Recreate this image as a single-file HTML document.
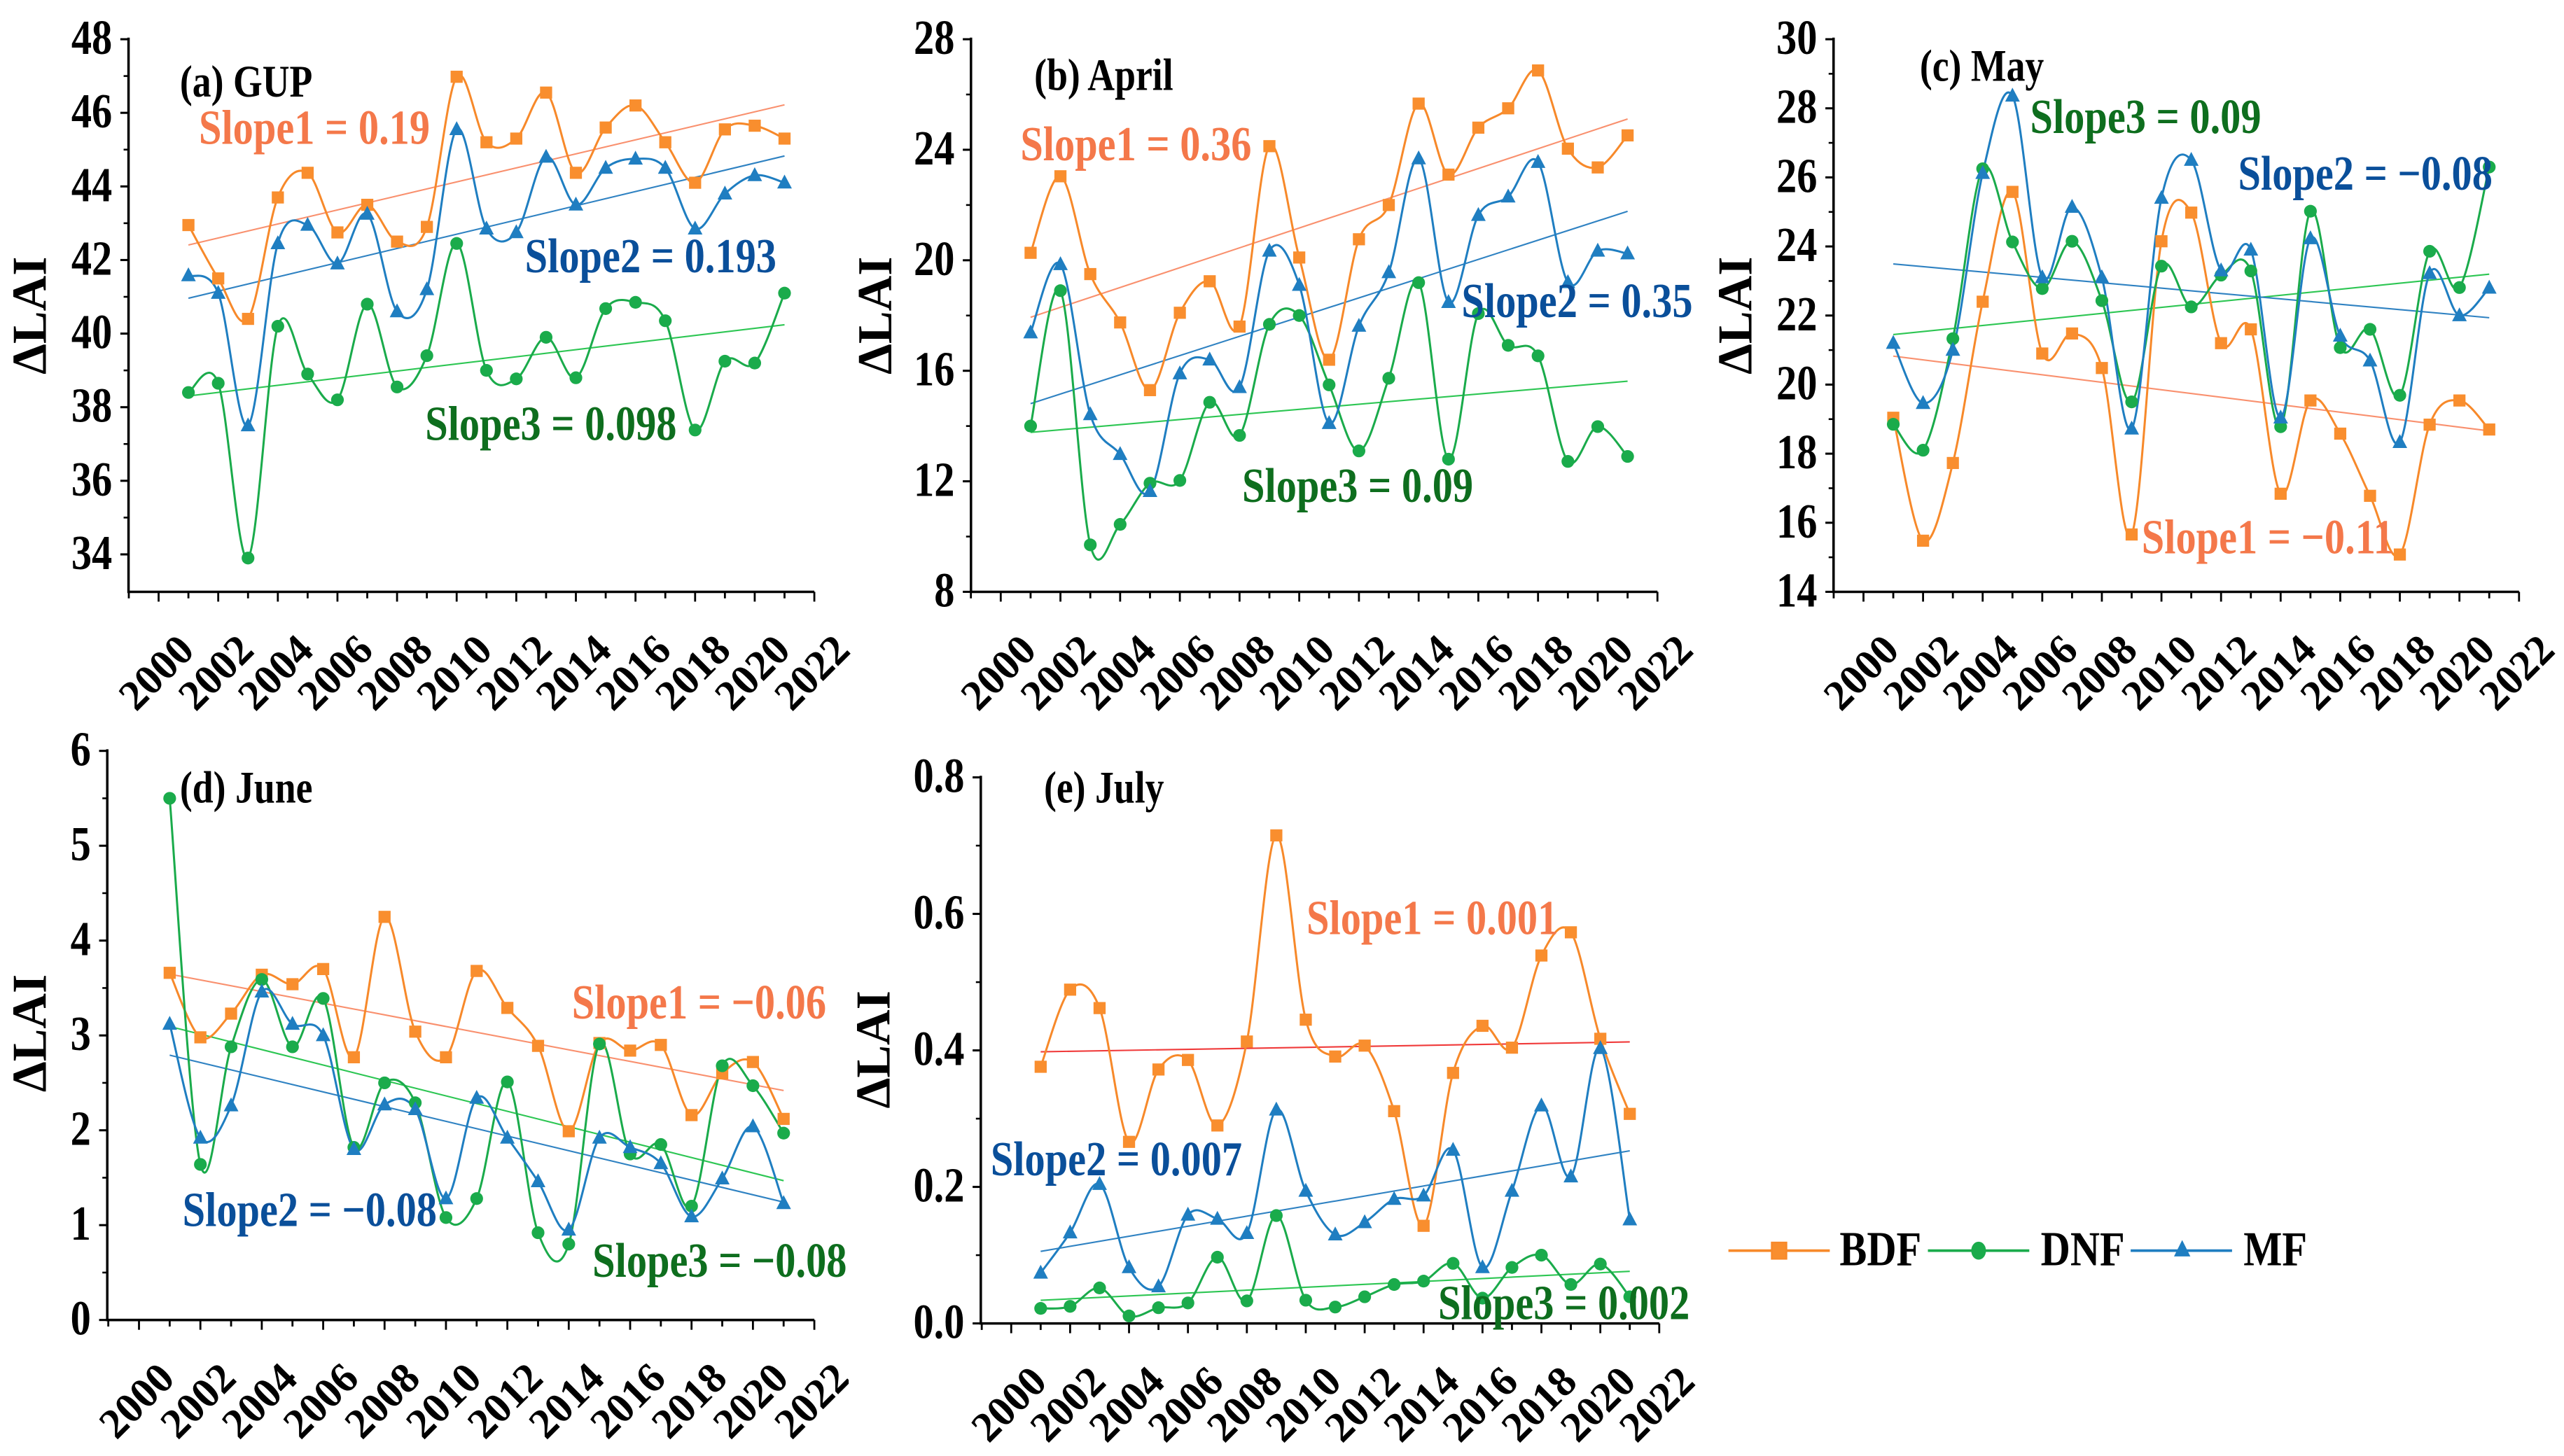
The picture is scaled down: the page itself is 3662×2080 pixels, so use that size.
<!DOCTYPE html>
<html><head><meta charset="utf-8"><style>
html,body{margin:0;padding:0;background:#fff;}
svg{display:block;}
text{font-family:"Liberation Serif",serif;font-weight:bold;}
</style></head><body>
<svg id="fig" width="3662" height="2080" viewBox="0 0 1568 890.6" preserveAspectRatio="none" xmlns="http://www.w3.org/2000/svg">
<defs><clipPath id="clipD"><rect x="0" y="420" width="519" height="470"/></clipPath></defs>
<g id="legend">
 <g>
  <line x1="1057" y1="765" x2="1119" y2="765" stroke="#F7892A" stroke-width="1.6"/>
  <rect x="1083.5" y="760" width="9" height="10" fill="#F98E2E" stroke="#F7892A"/>
  <text transform="translate(1125,774) scale(1,1.2)" font-size="25">BDF</text>
 </g>
 <g>
  <line x1="1179" y1="765" x2="1241" y2="765" stroke="#1AAB4B" stroke-width="1.6"/>
  <ellipse cx="1210" cy="765" rx="4.5" ry="5.5" fill="#1AAB4B"/>
  <text transform="translate(1248,774) scale(1,1.2)" font-size="25">DNF</text>
 </g>
 <g>
  <line x1="1303" y1="765" x2="1365" y2="765" stroke="#1F7EC1" stroke-width="1.6"/>
  <polygon points="1334.5,758.5 1339.5,768.5 1329.5,768.5" fill="#1F7EC1"/>
  <text transform="translate(1372,774) scale(1,1.2)" font-size="25">MF</text>
 </g>
</g>
</svg>
<script>
const years = [2001,2002,2003,2004,2005,2006,2007,2008,2009,2010,2011,2012,2013,2014,2015,2016,2017,2018,2019,2020,2021];
const xTickYears = [2000,2002,2004,2006,2008,2010,2012,2014,2016,2018,2020,2022];

const aBDF = [42.95,41.5,40.4,43.7,44.37,42.75,43.5,42.5,42.9,46.98,45.2,45.3,46.55,44.37,45.6,46.2,45.2,44.1,45.55,45.65,45.3];
const aDNF = [38.4,38.65,33.9,40.2,38.9,38.2,40.8,38.55,39.4,42.45,39.0,38.77,39.9,38.8,40.68,40.85,40.35,37.38,39.25,39.2,41.1];
const aMF  = [41.58,41.1,37.5,42.45,42.95,41.9,43.25,40.6,41.2,45.55,42.85,42.75,44.8,43.5,44.5,44.75,44.5,42.85,43.8,44.3,44.1];
const aYTicks = [34,36,38,40,42,44,46,48];

const bBDF = [20.27,23.04,19.5,17.75,15.3,18.1,19.24,17.6,24.13,20.1,16.4,20.76,22.0,25.67,23.1,24.8,25.5,26.87,24.04,23.36,24.52];
const bDNF = [14.0,18.9,9.7,10.44,11.93,12.03,14.86,13.66,17.68,18.0,15.49,13.1,15.73,19.19,12.8,18.07,16.92,16.54,12.72,13.98,12.9];
const bMF  = [17.38,19.85,14.42,12.98,11.64,15.9,16.4,15.4,20.34,19.1,14.1,17.62,19.56,23.68,18.48,21.63,22.3,23.55,19.2,20.34,20.24];
const bYTicks = [8,12,16,20,24,28];

const cBDF = [19.04,15.48,17.73,22.4,25.58,20.9,21.48,20.48,15.66,24.15,24.98,21.2,21.6,16.84,19.54,18.58,16.78,15.08,18.84,19.54,18.7];
const cDNF = [18.85,18.1,21.33,26.25,24.13,22.78,24.15,22.43,19.5,23.43,22.25,23.17,23.29,18.78,25.02,21.07,21.6,19.69,23.86,22.81,26.3];
const cMF  = [21.2,19.46,21.0,26.12,28.36,23.1,25.14,23.1,18.72,25.4,26.5,23.3,23.9,19.04,24.23,21.41,20.69,18.33,23.22,22.0,22.8];
const cYTicks = [14,16,18,20,22,24,26,28,30];

const dBDF = [3.66,2.98,3.23,3.64,3.54,3.7,2.77,4.25,3.04,2.77,3.68,3.29,2.89,1.99,2.92,2.84,2.9,2.16,2.6,2.72,2.12];
const dDNF = [5.5,1.64,2.88,3.59,2.88,3.39,1.82,2.5,2.29,1.08,1.28,2.51,0.92,0.8,2.91,1.75,1.85,1.2,2.68,2.47,1.97];
const dMF  = [3.12,1.92,2.26,3.46,3.12,3.0,1.8,2.27,2.22,1.28,2.34,1.92,1.46,0.95,1.92,1.82,1.65,1.09,1.49,2.04,1.23];
const dYTicks = [0,1,2,3,4,5,6];

const eBDF = [0.376,0.489,0.462,0.266,0.372,0.386,0.29,0.413,0.715,0.445,0.391,0.407,0.311,0.143,0.367,0.436,0.404,0.539,0.573,0.417,0.307];
const eDNF = [0.022,0.025,0.052,0.011,0.023,0.03,0.097,0.033,0.158,0.034,0.024,0.039,0.057,0.062,0.088,0.037,0.082,0.1,0.057,0.087,0.039];
const eMF  = [0.074,0.133,0.204,0.082,0.054,0.159,0.153,0.132,0.313,0.194,0.13,0.148,0.182,0.187,0.254,0.082,0.194,0.319,0.215,0.403,0.152];
const eYTicks = ['0.0','0.2','0.4','0.6','0.8'];

const slopeTexts = {
 a:['Slope1 = 0.19','Slope2 = 0.193','Slope3 = 0.098'],
 b:['Slope1 = 0.36','Slope2 = 0.35','Slope3 = 0.09'],
 c:['Slope1 = \u22120.11','Slope2 = \u22120.08','Slope3 = 0.09'],
 d:['Slope1 = \u22120.06','Slope2 = \u22120.08','Slope3 = \u22120.08'],
 e:['Slope1 = 0.001','Slope2 = 0.007','Slope3 = 0.002']
};

const NS='http://www.w3.org/2000/svg';
const svg=document.getElementById('fig');
const COL={BDF:'#F7892A',DNF:'#1AAB4B',MF:'#1F7EC1'};
const TREND={BDF:'#F9906E',DNF:'#2DC653',MF:'#2F82C2'};
const SLC=['#F4784A','#0A4F9A','#0E6E1E'];

function mk(tag,attrs,parent){const e=document.createElementNS(NS,tag);for(const k in attrs)e.setAttribute(k,attrs[k]);(parent||svg).appendChild(e);return e;}
function stext(x,y,size,attrs,parent){const a=Object.assign({x:0,y:0,'font-size':size,transform:'translate('+x+','+y+') scale(1,1.2)'},attrs);return mk('text',a,parent);}

function spline(pts){
 let d='M'+pts[0][0]+','+pts[0][1];
 for(let i=0;i<pts.length-1;i++){
  const p0=pts[Math.max(0,i-1)],p1=pts[i],p2=pts[i+1],p3=pts[Math.min(pts.length-1,i+2)];
  const c1x=p1[0]+(p2[0]-p0[0])/6,c1y=p1[1]+(p2[1]-p0[1])/6;
  const c2x=p2[0]-(p3[0]-p1[0])/6,c2y=p2[1]-(p3[1]-p1[1])/6;
  d+=' C'+c1x.toFixed(2)+','+c1y.toFixed(2)+' '+c2x.toFixed(2)+','+c2y.toFixed(2)+' '+p2[0].toFixed(2)+','+p2[1].toFixed(2);
 }
 return d;
}
function linreg(xs,ys){const n=xs.length;let sx=0,sy=0,sxx=0,sxy=0;for(let i=0;i<n;i++){sx+=xs[i];sy+=ys[i];sxx+=xs[i]*xs[i];sxy+=xs[i]*ys[i];}const b=(n*sxy-sx*sy)/(n*sxx-sx*sx);return{b:b,a:(sy-b*sx)/n};}

function panel(cfg){
 const g=mk('g',{});
 
 
 if(cfg.clip) g.setAttribute('clip-path',cfg.clip);
 const X=v=>cfg.x2000+(v-2000)*(cfg.x2022-cfg.x2000)/22;
 const Y=v=>cfg.yTopPx+(cfg.yTopVal-v)*(cfg.yBotPx-cfg.yTopPx)/(cfg.yTopVal-cfg.yBotVal);
 const axBot=cfg.axisBot, axLeft=cfg.axisLeft;
 const ax=mk('path',{d:'M'+axLeft+','+(cfg.yTopPx-1)+' L'+axLeft+','+axBot+' L'+cfg.x2022+','+axBot,fill:'none',stroke:'#000','stroke-width':1.5},g);
 
 
 cfg.yTicks.forEach((t,i)=>{
  const v=parseFloat(t),y=Y(v);
  mk('line',{x1:axLeft-5,y1:y,x2:axLeft,y2:y,stroke:'#000','stroke-width':1.3},g);
  const tx=stext(axLeft-10,y+9,25,{'text-anchor':'end'},g);
  tx.textContent=t;
  
  
  if(i<cfg.yTicks.length-1){const vm=(v+parseFloat(cfg.yTicks[i+1]))/2,ym=Y(vm);mk('line',{x1:axLeft-3,y1:ym,x2:axLeft,y2:ym,stroke:'#000','stroke-width':1.1},g);}
 });
 for(let yr=2000;yr<=2022;yr++){const x=X(yr);mk('line',{x1:x,y1:axBot,x2:x,y2:axBot+(yr%2===0?6:4),stroke:'#000','stroke-width':1.2},g);}
 mk('line',{x1:X(1999),y1:axBot,x2:X(1999),y2:axBot+4,stroke:'#000','stroke-width':1.2},g);
 xTickYears.forEach(yr=>{
  const x=X(yr)+23,y=axBot+37;
  const t=mk('text',{x:x,y:y,'font-size':26,'text-anchor':'end',transform:'rotate(-45 '+x+' '+y+')'},g);
  t.textContent=yr;
  
  
 });
 const yt=mk('text',{x:cfg.ytX,y:cfg.ytY,'font-size':30,'text-anchor':'middle',transform:'rotate(-90 '+cfg.ytX+' '+cfg.ytY+')'},g);
 yt.textContent='\u0394LAI';
 
 
 const pt=stext(cfg.titleX,cfg.titleY,23,{},g);
 pt.textContent=cfg.title;
 
 
 const series=[['BDF',cfg.BDF],['DNF',cfg.DNF],['MF',cfg.MF]];
 series.forEach(([k,vals])=>{
  const r=linreg(years,vals);
  const col=(cfg.id==='e'&&k==='BDF')?'#F03A3A':TREND[k];
  const l=mk('line',{x1:X(2001),y1:Y(r.a+r.b*2001),x2:X(2021),y2:Y(r.a+r.b*2021),stroke:col,'stroke-width':0.9},g);
  
  
 });
 series.forEach(([k,vals])=>{
  const pts=years.map((yr,i)=>[X(yr),Y(vals[i])]);
  const p=mk('path',{d:spline(pts),fill:'none',stroke:COL[k],'stroke-width':1.3},g);
  
  
 });
 series.forEach(([k,vals])=>{
  years.forEach((yr,i)=>{
   const x=X(yr),y=Y(vals[i]);let m;
   if(k==='BDF') m=mk('rect',{x:x-3.7,y:y-3.7,width:7.4,height:7.4,fill:'#F98E2E'},g);
   else if(k==='DNF') m=mk('circle',{cx:x,cy:y,r:3.9,fill:'#1AAB4B'},g);
   else m=mk('polygon',{points:x+','+(y-5)+' '+(x+4.5)+','+(y+3.5)+' '+(x-4.5)+','+(y+3.5),fill:'#1F7EC1'},g);
   
   
  });
 });
 cfg.slopePos.forEach((p,i)=>{
  const t=stext(p[0],p[1],25,{fill:SLC[i]},g);
  t.textContent=slopeTexts[cfg.id][i];
  
  
 });
}

panel({id:'a',title:'(a) GUP',BDF:aBDF,DNF:aDNF,MF:aMF,yTicks:aYTicks.map(String),
 x2000:97,x2022:498,axisLeft:78.6,axisBot:362,yTopPx:24,yTopVal:48,yBotPx:339.1,yBotVal:34,
 ytX:28,ytY:193,titleX:110,titleY:59,slopePos:[[121.6,88],[321,166.5],[260,269]]});
panel({id:'b',title:'(b) April',BDF:bBDF,DNF:bDNF,MF:bMF,yTicks:bYTicks.map(String),
 x2000:612,x2022:1013.6,axisLeft:593.8,axisBot:362,yTopPx:24,yTopVal:28,yBotPx:362,yBotVal:8,
 ytX:545,ytY:193,titleX:632.5,titleY:55,slopePos:[[624,98],[893.8,194],[759.6,307]]});
panel({id:'c',title:'(c) May',BDF:cBDF,DNF:cDNF,MF:cMF,yTicks:cYTicks.map(String),
 x2000:1139.6,x2022:1540.5,axisLeft:1121.3,axisBot:362,yTopPx:24,yTopVal:30,yBotPx:362,yBotVal:14,
 ytX:1071,ytY:193,titleX:1174,titleY:49.5,slopePos:[[1309.7,338.5],[1368.7,116],[1241.5,81.4]]});
panel({id:'d',title:'(d) June',BDF:dBDF,DNF:dDNF,MF:dMF,yTicks:dYTicks.map(String),clip:'url(#clipD)',
 x2000:85,x2022:498,axisLeft:65.6,axisBot:807.4,yTopPx:459.3,yTopVal:6,yBotPx:807.4,yBotVal:0,
 ytX:28,ytY:632,titleX:110,titleY:491,slopePos:[[349.7,623],[111.6,750],[362.3,781]]});
panel({id:'e',title:'(e) July',BDF:eBDF,DNF:eDNF,MF:eMF,yTicks:eYTicks,
 x2000:618.4,x2022:1014.7,axisLeft:599.8,axisBot:809.5,yTopPx:475.5,yTopVal:0.8,yBotPx:809.5,yBotVal:0,
 ytX:544,ytY:642,titleX:638.4,titleY:491,slopePos:[[799,571.4],[605.8,719],[879.5,806.8]]});
</script>
</body></html>
